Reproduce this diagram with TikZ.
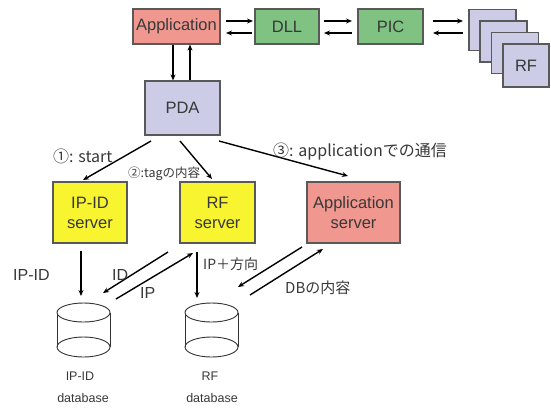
\documentclass[tikz,border=0pt]{standalone}
\usepackage{fontspec}
\setmainfont{Liberation Sans}
\newfontfamily\cjk{Noto Sans CJK JP}
\usetikzlibrary{arrows.meta,shapes.geometric}
\definecolor{apink}{HTML}{F09890}
\definecolor{agreen}{HTML}{80C282}
\definecolor{alav}{HTML}{CCCCE6}
\definecolor{ayel}{HTML}{F8F530}
\definecolor{tgray}{HTML}{383838}
\tikzset{
  blk/.style={draw=black!65,line width=1.2pt,inner sep=0pt,align=center,text=tgray,font=\fontsize{16.5}{20}\selectfont},
  arr/.style={-{Stealth[length=6pt,width=5pt]},line width=1.4pt},
  lbl/.style={text=tgray,font=\fontsize{16}{18}\selectfont,inner sep=0pt},
  dblbl/.style={text=tgray,font=\fontsize{12.5}{14}\selectfont,inner sep=0pt},
  dbline/.style={draw=black!80,line width=0.9pt}
}
\begin{document}
\begin{tikzpicture}[x=1pt,y=-1pt]
\useasboundingbox (0,0) rectangle (551,408);
% top row
\node[blk,fill=apink,minimum width=87pt,minimum height=35pt] (app) at (176.5,26.5) {Application};
\node[blk,fill=agreen,minimum width=64pt,minimum height=35pt] (dll) at (287,26.5) {DLL};
\node[blk,fill=agreen,minimum width=65pt,minimum height=35pt] (pic) at (390.5,26.5) {PIC};
\node[blk,fill=alav,minimum width=47pt,minimum height=41pt] (rf1) at (492.5,30) {};
\node[blk,fill=alav,minimum width=47pt,minimum height=41pt] (rf2) at (503.5,41.5) {};
\node[blk,fill=alav,minimum width=47pt,minimum height=41pt] (rf3) at (515,53) {};
\node[blk,fill=alav,minimum width=46pt,minimum height=43pt] (rf4) at (526,65.5) {RF};
% PDA
\node[blk,fill=alav,minimum width=75pt,minimum height=54pt] (pda) at (182.5,108) {PDA};
% servers
\node[blk,fill=ayel,minimum width=74pt,minimum height=61pt] (ipid) at (90,212.5) {IP-ID\\server};
\node[blk,fill=ayel,minimum width=75pt,minimum height=61pt] (rfs) at (217.5,212.5) {RF\\server};
\node[blk,fill=apink,minimum width=93pt,minimum height=61pt] (apps) at (353.5,212.5) {Application\\server};
% databases
\foreach \n/\cx in {ipdb/83.5,rfdb/211.5}{
  \node[minimum width=53pt,minimum height=64pt,inner sep=0pt] (\n) at (\cx,330) {};
  \draw[dbline] (\cx-26.5,312.5) -- (\cx-26.5,347);
  \draw[dbline] (\cx+26.5,312.5) -- (\cx+26.5,347);
  \draw[dbline,fill=white] (\cx,312.5) ellipse [x radius=26.5pt,y radius=9.5pt];
  \draw[dbline] (\cx,347) ellipse [x radius=26.5pt,y radius=10pt];
}
\node[dblbl] (ipdbl1) at (80,376) {IP-ID};
\node[dblbl] (ipdbl2) at (83,398) {database};
\node[dblbl] (rfdbl1) at (210,376) {RF};
\node[dblbl] (rfdbl2) at (212,398) {database};
% top arrows
\coordinate (a1) at (226,21); \coordinate (a2) at (253,21);
\coordinate (a3) at (252,33); \coordinate (a4) at (226,33);
\draw[arr] (a1) -- (a2); \draw[arr] (a3) -- (a4);
\coordinate (b1) at (324,21); \coordinate (b2) at (352,21);
\coordinate (b3) at (352,33); \coordinate (b4) at (324,33);
\draw[arr] (b1) -- (b2); \draw[arr] (b3) -- (b4);
\coordinate (c1) at (433,21); \coordinate (c2) at (463,21);
\coordinate (c3) at (463,33); \coordinate (c4) at (433,33);
\draw[arr] (c1) -- (c2); \draw[arr] (c3) -- (c4);
% app <-> pda
\draw[arr] (app.south -| 173,0) -- (pda.north -| 173,0);
\draw[arr] (pda.north -| 190,0) -- (app.south -| 190,0);
% pda -> servers
\coordinate (p1) at (151,141); \coordinate (s1) at (83,180);
\coordinate (p2) at (180,141); \coordinate (s2) at (212,179);
\coordinate (p3) at (219,141); \coordinate (s3) at (348,176);
\draw[arr] (p1) -- (s1);
\draw[arr] (p2) -- (s2);
\draw[arr] (p3) -- (s3);
\node[lbl,anchor=west] (l1) at (53,156) {\cjk ①: start};
\node[lbl,anchor=west,font=\fontsize{12.5}{14}\selectfont] (l2) at (128,174) {\cjk ②:tagの内容};
\node[lbl,anchor=west] (l3) at (273,152) {\cjk ③: applicationでの通信};
% lower arrows
\coordinate (d1) at (81,251); \coordinate (d2) at (81,296);
\draw[arr] (d1) -- (d2);
\node[lbl,anchor=west] (lipid) at (13,275) {IP-ID};
\coordinate (e1) at (168,252); \coordinate (e2) at (103,293);
\draw[arr] (e1) -- (e2);
\coordinate (f1) at (116,299); \coordinate (f2) at (193,253);
\draw[arr] (f1) -- (f2);
\node[lbl,anchor=west] (lid) at (112,275) {ID};
\node[lbl,anchor=west] (lip) at (140,293) {IP};
\coordinate (g1) at (197,252); \coordinate (g2) at (197,298);
\draw[arr] (g1) -- (g2);
\node[lbl,anchor=west,font=\fontsize{14}{16}\selectfont] (lipdir) at (203,264) {\cjk IP＋方向};
\coordinate (h1) at (302,247); \coordinate (h2) at (238,287);
\draw[arr] (h1) -- (h2);
\coordinate (k1) at (250,295); \coordinate (k2) at (323,249);
\draw[arr] (k1) -- (k2);
\node[lbl,anchor=west,font=\fontsize{15}{17}\selectfont] (ldb) at (285,288) {\cjk DBの内容};
\end{tikzpicture}
\end{document}
